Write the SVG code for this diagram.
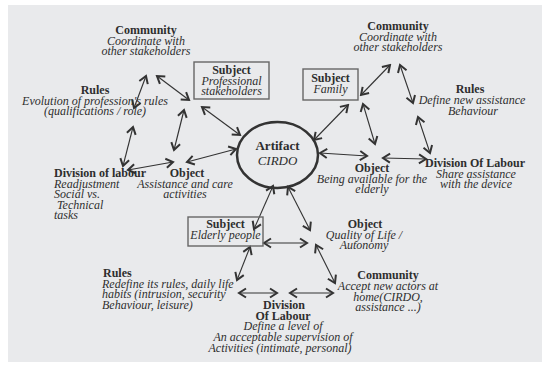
<svg xmlns="http://www.w3.org/2000/svg" width="555" height="365" viewBox="0 0 555 365">
<style>
text{font-family:"Liberation Serif","Times New Roman",serif;font-size:12px;fill:#2e2e2e;}
.b{font-weight:bold;}
.i{font-style:italic;}
.m{text-anchor:middle;}
.box{fill:none;stroke:#666;stroke-width:1.4;}
.a{stroke:#333;stroke-width:1.1;fill:none;marker-start:url(#h);marker-end:url(#h);}
</style>
<defs>
<marker id="h" viewBox="-9 -6 11 12" refX="0" refY="0" markerWidth="11" markerHeight="12" markerUnits="userSpaceOnUse" orient="auto-start-reverse">
<path d="M-7,-4.5 L0,0 L-7,4.5" fill="none" stroke="#333" stroke-width="2"/>
</marker>
</defs>
<rect x="0" y="0" width="555" height="365" fill="#fff"/>
<rect x="8" y="5" width="534" height="357" fill="#e9eaec"/>

<g id="connectors">
<line class="a" x1="146" y1="76" x2="134" y2="108"/>
<line class="a" x1="157" y1="76" x2="189" y2="100"/>
<line class="a" x1="133" y1="127" x2="123" y2="166"/>
<line class="a" x1="128" y1="170" x2="173" y2="162"/>
<line class="a" x1="174" y1="150" x2="184" y2="110"/>
<line class="a" x1="202" y1="107" x2="240" y2="135"/>
<line class="a" x1="187" y1="162" x2="236" y2="149"/>
<line class="a" x1="361" y1="95" x2="390" y2="65"/>
<line class="a" x1="400" y1="65" x2="413" y2="103"/>
<line class="a" x1="418" y1="117" x2="430" y2="153"/>
<line class="a" x1="348" y1="105" x2="314" y2="140"/>
<line class="a" x1="363" y1="104" x2="375" y2="144"/>
<line class="a" x1="320" y1="153" x2="367" y2="156"/>
<line class="a" x1="383" y1="158" x2="426" y2="159"/>
<line class="a" x1="273" y1="186" x2="254" y2="229"/>
<line class="a" x1="288" y1="187" x2="310" y2="230"/>
<line class="a" x1="264" y1="243" x2="307" y2="243"/>
<line class="a" x1="250" y1="247" x2="237" y2="280"/>
<line class="a" x1="316" y1="245" x2="335" y2="283"/>
<line class="a" x1="239" y1="293" x2="277" y2="293"/>
<line class="a" x1="290" y1="293" x2="333" y2="293"/>
</g>

<g id="artifact">
<ellipse cx="277.5" cy="155" rx="40.5" ry="33" fill="none" stroke="#333" stroke-width="2.5"/>
<text class="b m" x="277.5" y="150" style="font-size:13px">Artifact</text>
<text class="i m" x="277.5" y="165" style="font-size:13px">CIRDO</text>
</g>

<g id="community-left">
<text class="b m" x="146" y="34">Community</text>
<text class="i m" x="146" y="45">Coordinate with</text>
<text class="i m" x="146" y="55">other stakeholders</text>
</g>

<g id="subject-professional">
<rect class="box" x="194" y="62" width="75" height="37"/>
<text class="b m" x="231.5" y="74">Subject</text>
<text class="i m" x="231.5" y="84.5">Professional</text>
<text class="i m" x="231.5" y="95">stakeholders</text>
</g>

<g id="rules-left">
<text class="b m" x="95" y="94">Rules</text>
<text class="i m" x="95" y="104.5">Evolution of profession's rules</text>
<text class="i m" x="95" y="115">(qualifications / role)</text>
</g>

<g id="division-left">
<text class="b" x="54" y="177">Division of labour</text>
<text class="i" x="54" y="187.5">Readjustment</text>
<text class="i" x="54" y="198">Social vs.</text>
<text class="i" x="57" y="208.5">Technical</text>
<text class="i" x="54" y="219">tasks</text>
</g>

<g id="object-left">
<text class="b m" x="187" y="177">Object</text>
<text class="i m" x="185" y="188">Assistance and care</text>
<text class="i m" x="185" y="198">activities</text>
</g>

<g id="community-right">
<text class="b m" x="398" y="30">Community</text>
<text class="i m" x="398" y="40.5">Coordinate with</text>
<text class="i m" x="398" y="51">other stakeholders</text>
</g>

<g id="subject-family">
<rect class="box" x="303" y="69" width="55" height="31"/>
<text class="b m" x="330.5" y="82">Subject</text>
<text class="i m" x="330.5" y="92.5">Family</text>
</g>

<g id="rules-right">
<text class="b m" x="470" y="93">Rules</text>
<text class="i m" x="472" y="104">Define new assistance</text>
<text class="i m" x="473" y="114.5">Behaviour</text>
</g>

<g id="object-right">
<text class="b m" x="372" y="172">Object</text>
<text class="i m" x="372" y="183">Being available for the</text>
<text class="i m" x="372" y="193">elderly</text>
</g>

<g id="division-right">
<text class="b m" x="475" y="167">Division Of Labour</text>
<text class="i m" x="476" y="178">Share assistance</text>
<text class="i m" x="476" y="188">with the device</text>
</g>

<g id="subject-elderly">
<rect class="box" x="188" y="217" width="75" height="29"/>
<text class="b m" x="225.5" y="228">Subject</text>
<text class="i m" x="225.5" y="239">Elderly people</text>
</g>

<g id="object-bottom">
<text class="b m" x="365" y="228">Object</text>
<text class="i m" x="364" y="238.5">Quality of Life /</text>
<text class="i m" x="364" y="249">Autonomy</text>
</g>

<g id="community-bottom">
<text class="b m" x="388" y="279">Community</text>
<text class="i m" x="388" y="290">Accept new actors at</text>
<text class="i m" x="388" y="300.5">home(CIRDO,</text>
<text class="i m" x="388" y="311">assistance ...)</text>
</g>

<g id="rules-bottom">
<text class="b" x="103" y="277">Rules</text>
<text class="i" x="102" y="287.5">Redefine its rules, daily life</text>
<text class="i" x="102" y="298">habits (intrusion, security</text>
<text class="i" x="102" y="308.5">Behaviour, leisure)</text>
</g>

<g id="division-bottom">
<text class="b m" x="284" y="309">Division</text>
<text class="b m" x="283" y="319.5">Of Labour</text>
<text class="i m" x="283" y="330">Define a level of</text>
<text class="i m" x="283" y="341">An acceptable supervision of</text>
<text class="i m" x="280" y="351.5">Activities (intimate, personal)</text>
</g>
</svg>
